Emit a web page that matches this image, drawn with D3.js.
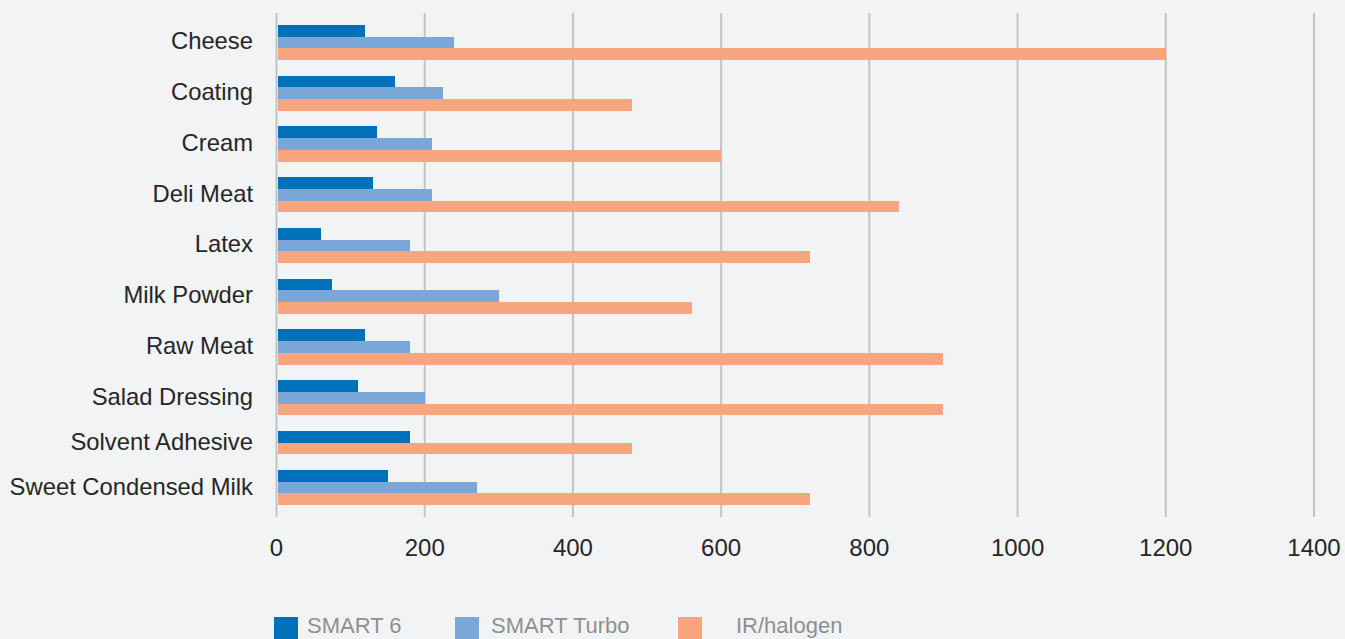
<!DOCTYPE html>
<html>
<head>
<meta charset="utf-8">
<script src="https://cdn.jsdelivr.net/npm/d3@7"></script>
<style>
  html, body { margin: 0; padding: 0; background: #f2f3f5; overflow: hidden; }
  text { font-family: "Liberation Sans", Arial, sans-serif; }
</style>
</head>
<body>
<div id="chart"></div>
<script>
var categories = ["Cheese", "Coating", "Cream", "Deli Meat", "Latex", "Milk Powder",
    "Raw Meat", "Salad Dressing", "Solvent Adhesive", "Sweet Condensed Milk"];
var smart6 = [120, 160, 135, 130, 60, 75, 120, 110, 180, 150];
var smartTurbo = [240, 225, 210, 210, 180, 300, 180, 200, null, 270];
var irHalogen = [1200, 480, 600, 840, 720, 560, 900, 900, 480, 720];
var seriesNames = ["SMART 6", "SMART Turbo", "IR/halogen"];
var colors = ["#0070b8", "#7ba6d8", "#f7a57e"];
var xTicks = [0, 200, 400, 600, 800, 1000, 1200, 1400];

var width = 1345;
var height = 639;

var svg = d3.select("#chart")
    .append("svg")
    .attr("width", width)
    .attr("height", height);

var allSeries = [smart6, smartTurbo, irHalogen];

var xScale = d3.scaleLinear()
    .domain([0, 1400])
    .range([276.5, 1314]);

// every category gets as many bar slots as it has values, plus a fixed gap
var gapUnits = 1.32;
var outerUnits = 1.0;
var rows = [];
var pos = outerUnits;
categories.forEach(function (c, i) {
    var present = [];
    allSeries.forEach(function (s, k) {
        if (s[i] != null) present.push(k);
    });
    var start = pos;
    var bars = present.map(function (k, j) {
        return {series: k, value: allSeries[k][i], y0: start + j, y1: start + j + 1};
    });
    rows.push({name: c, start: start, end: start + present.length, bars: bars});
    pos += present.length;
    if (i < categories.length - 1) pos += gapUnits;
});
pos += outerUnits;

var yScale = d3.scaleLinear()
    .domain([0, pos])
    .range([13, 517]);

// gridlines
svg.append("g")
    .selectAll("line")
    .data(xTicks)
    .enter()
    .append("line")
    .attr("x1", function (d) { return xScale(d); })
    .attr("x2", function (d) { return xScale(d); })
    .attr("y1", 13)
    .attr("y2", 517)
    .attr("stroke", "#c2c3c5")
    .attr("stroke-width", 2);

// bars
var rowG = svg.append("g")
    .selectAll("g")
    .data(rows)
    .enter()
    .append("g");

rowG.selectAll("rect")
    .data(function (d) { return d.bars; })
    .enter()
    .append("rect")
    .attr("x", xScale(0) + 1)
    .attr("y", function (d) { return yScale(d.y0); })
    .attr("height", function (d) { return yScale(d.y1) - yScale(d.y0); })
    .attr("width", function (d) { return xScale(d.value) - xScale(0) - 1; })
    .attr("fill", function (d) { return colors[d.series]; })
    .attr("shape-rendering", "crispEdges");

// category labels
rowG.append("text")
    .attr("x", 253)
    .attr("y", function (d) { return yScale((d.start + d.end) / 2) + 7; })
    .attr("text-anchor", "end")
    .attr("font-size", 23.8)
    .attr("fill", "#262626")
    .text(function (d) { return d.name; });

// x tick labels
svg.append("g")
    .selectAll("text")
    .data(xTicks)
    .enter()
    .append("text")
    .attr("x", function (d) { return xScale(d); })
    .attr("y", 556)
    .attr("text-anchor", "middle")
    .attr("font-size", 24)
    .attr("fill", "#262626")
    .text(function (d) { return d; });

// legend
var legendX = [274, 455, 678];
var legendTextX = [307, 491, 736];
var legend = svg.append("g")
    .selectAll("g")
    .data(seriesNames)
    .enter()
    .append("g");

legend.append("rect")
    .attr("x", function (d, i) { return legendX[i]; })
    .attr("y", 617)
    .attr("width", 24)
    .attr("height", 24)
    .attr("fill", function (d, i) { return colors[i]; });

legend.append("text")
    .attr("x", function (d, i) { return legendTextX[i]; })
    .attr("y", 633)
    .attr("font-size", 22)
    .attr("fill", "#8f8f8f")
    .text(function (d) { return d; });
</script>
</body>
</html>
